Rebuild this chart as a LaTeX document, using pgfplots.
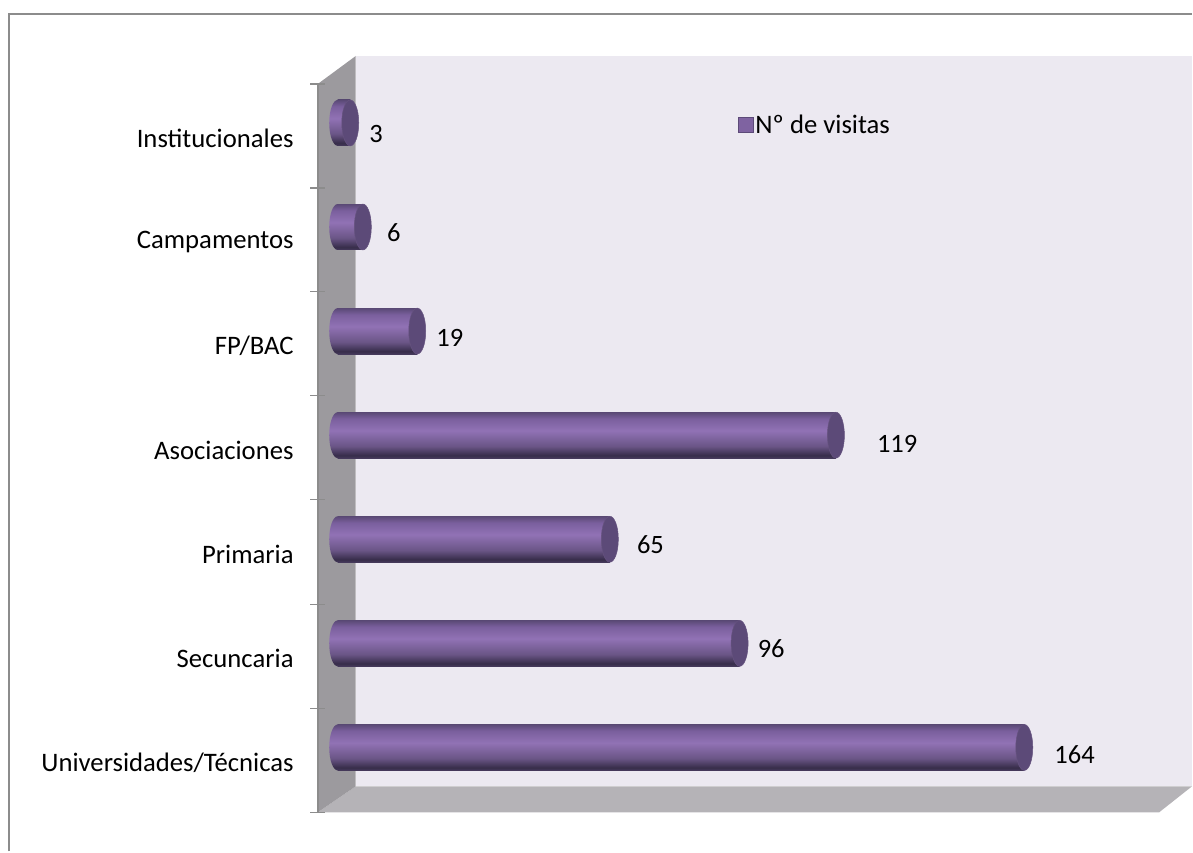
\documentclass[border=0pt]{standalone}
\usepackage{fontspec}
\setmainfont{Carlito}
\usepackage{pgfplots}
\pgfplotsset{compat=1.18}

\definecolor{wallside}{HTML}{9C9A9E}
\definecolor{wallback}{HTML}{ECE9F1}
\definecolor{wallfloor}{HTML}{B5B3B7}
\definecolor{edgegray}{HTML}{8C8C8C}
\definecolor{capdark}{HTML}{5C4A78}
\definecolor{caprim}{HTML}{66537F}
\definecolor{legbar}{HTML}{7F63A1}
\definecolor{cyla}{HTML}{463A5C}
\definecolor{cylb}{HTML}{372D4A}
\definecolor{cylc}{HTML}{6A5586}
\definecolor{cyld}{HTML}{9172B5}
\definecolor{cyle}{HTML}{7A5F9D}
\definecolor{cylf}{HTML}{5A4975}

% cylinder body, bottom to top (the path fills the middle 50bp)
\pgfdeclareverticalshading{cyl}{100bp}{
  color(0bp)=(cyla);
  color(25bp)=(cyla);
  color(28bp)=(cylb);
  color(38bp)=(cylc);
  color(55bp)=(cyld);
  color(68bp)=(cyle);
  color(75bp)=(cylf);
  color(100bp)=(cylf)}

\pgfdeclareplotmark{capleft}{%
  \pgfpathellipse{\pgfpointorigin}{\pgfqpoint{8.5bp}{0pt}}{\pgfqpoint{0pt}{23bp}}%
  \pgfshadepath{cyl}{0}%
  \pgfusepath{discard}}
\pgfdeclareplotmark{capright}{%
  \pgfpathellipse{\pgfpointorigin}{\pgfqpoint{8.5bp}{0pt}}{\pgfqpoint{0pt}{23bp}}%
  \pgfusepathqfillstroke}

% one cylinder: value, category, label shift x, label shift y
\newcommand{\cylinder}[4]{%
  \addplot[only marks,mark=capleft,forget plot] coordinates {(0,#2)};
  \addplot[xbar,bar shift=0pt,draw=none,shading=cyl,forget plot,
    nodes near coords,
    every node near coord/.append style={anchor=west,inner sep=0pt,text=black,
      font=\fontsize{26.5bp}{30bp}\selectfont,xshift=#3bp,yshift=#4bp},
  ] coordinates {(#1,#2)};
  \addplot[only marks,mark=capright,mark options={fill=capdark,draw=caprim,line width=0.5bp},forget plot] coordinates {(#1,#2)};
}

\begin{document}
\begin{tikzpicture}
\begin{axis}[
    scale only axis,
    width=875bp,
    height=757bp,
    clip=false,
    axis on top,
    /pgf/number format/assume math mode=true,
    xmin=-4.773,
    xmax=204.06,
    ymin=-0.624,
    ymax=6.643,
    axis line style={draw=none},
    xtick=\empty,
    ytick={0,1,2,3,4,5,6},
    yticklabels={Universidades/Técnicas,Secuncaria,Primaria,Asociaciones,FP/BAC,Campamentos,Institucionales},
    ytick pos=left,
    major tick length=0pt,
    y tick label style={font=\fontsize{26.7bp}{30bp}\selectfont,text=black,xshift=-24bp,yshift=-15bp,inner sep=0pt},
    extra y ticks={-0.624,0.374,1.372,2.381,3.379,4.378,5.376,6.374},
    extra y tick labels={},
    extra y tick style={tick align=center,major tick length=15bp,tick style={edgegray,line width=1.5bp}},
    bar width=46bp,
    legend style={at={(axis cs:95.45,5.98)},anchor=west,draw=none,fill=none,inner sep=0pt,
      font=\fontsize{26.7bp}{30bp}\selectfont,legend cell align=left,
      /tikz/every even column/.append style={column sep=2bp}},
]
% page size and frame
\addplot[draw=none,forget plot] coordinates {(-80.67,-0.998)(204.06,7.181)};
\addplot[edgegray,line width=2bp,forget plot] coordinates {(-78.52,-0.998)(-78.52,7.046)(204.06,7.046)};
% walls and floor
\addplot[fill=wallback,draw=none,forget plot] coordinates {(4.30,6.643)(204.06,6.643)(204.06,-0.374)(4.30,-0.374)} -- cycle;
\addplot[fill=wallfloor,draw=none,forget plot] coordinates {(4.30,-0.374)(204.06,-0.374)(196.2,-0.624)(-4.77,-0.624)} -- cycle;
\addplot[fill=wallside,draw=none,forget plot] coordinates {(-4.77,6.374)(4.30,6.643)(4.30,-0.374)(-4.77,-0.624)} -- cycle;
\addplot[edgegray,line width=2.5bp,forget plot] coordinates {(-4.77,6.374)(-4.77,-0.624)};
\cylinder{164}{0}{30}{-7}
\cylinder{96}{1}{18}{-5}
\cylinder{65}{2}{27}{-5}
\cylinder{119}{3}{41}{-9}
\cylinder{19}{4}{19}{-7}
\cylinder{6}{5}{24}{-6}
\cylinder{3}{6}{19}{-11}
\addlegendimage{legend image code/.code={\draw[fill=legbar,draw=capdark,line width=1bp] (0bp,-7.5bp) rectangle (15bp,7.5bp);}}
\addlegendentry{Nº de visitas}
\end{axis}
\end{tikzpicture}
\end{document}
